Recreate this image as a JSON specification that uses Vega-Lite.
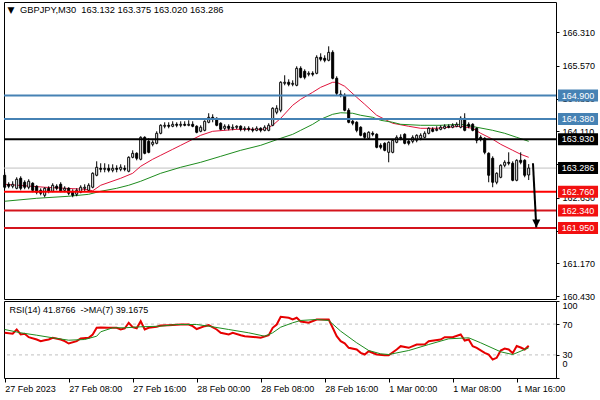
{
"$schema":"https://vega.github.io/schema/vega-lite/v6.json",
"padding":{"left":0,"top":1,"right":2,"bottom":2},
"background":"white",
"spacing":2,
"bounds":"flush",
"config":{
 "view":{"stroke":"black","strokeWidth":1},
 "axis":{"labelFont":"Liberation Sans","labelFontSize":9,"labelColor":"black","tickColor":"black","tickSize":3,"domain":false,"grid":false,"labelPadding":3,"labelOverlap":false,"labelBound":false},
 "text":{"font":"Liberation Sans"}
},
"datasets":{
 "candles":[
{"t":"2023-02-27T00:00","o":163.126,"h":163.192,"l":162.814,"c":162.859},
{"t":"2023-02-27T00:30","o":162.925,"h":162.970,"l":162.836,"c":162.881},
{"t":"2023-02-27T01:00","o":162.881,"h":162.992,"l":162.836,"c":162.925},
{"t":"2023-02-27T01:30","o":162.836,"h":163.081,"l":162.814,"c":163.037},
{"t":"2023-02-27T02:00","o":163.059,"h":163.103,"l":162.791,"c":162.836},
{"t":"2023-02-27T02:30","o":162.970,"h":163.014,"l":162.814,"c":162.859},
{"t":"2023-02-27T03:00","o":162.859,"h":163.037,"l":162.814,"c":162.992},
{"t":"2023-02-27T03:30","o":162.948,"h":162.970,"l":162.747,"c":162.791},
{"t":"2023-02-27T04:00","o":162.881,"h":162.903,"l":162.702,"c":162.747},
{"t":"2023-02-27T04:30","o":162.791,"h":162.836,"l":162.680,"c":162.725},
{"t":"2023-02-27T05:00","o":162.680,"h":162.859,"l":162.636,"c":162.836},
{"t":"2023-02-27T05:30","o":162.836,"h":162.881,"l":162.725,"c":162.769},
{"t":"2023-02-27T06:00","o":162.769,"h":162.948,"l":162.747,"c":162.903},
{"t":"2023-02-27T06:30","o":162.881,"h":162.925,"l":162.791,"c":162.836},
{"t":"2023-02-27T07:00","o":162.925,"h":162.970,"l":162.747,"c":162.769},
{"t":"2023-02-27T07:30","o":162.791,"h":162.881,"l":162.747,"c":162.836},
{"t":"2023-02-27T08:00","o":162.836,"h":162.859,"l":162.680,"c":162.725},
{"t":"2023-02-27T08:30","o":162.769,"h":162.814,"l":162.636,"c":162.680},
{"t":"2023-02-27T09:00","o":162.702,"h":162.836,"l":162.658,"c":162.791},
{"t":"2023-02-27T09:30","o":162.747,"h":162.903,"l":162.725,"c":162.859},
{"t":"2023-02-27T10:00","o":162.836,"h":162.925,"l":162.769,"c":162.859},
{"t":"2023-02-27T10:30","o":162.791,"h":162.948,"l":162.769,"c":162.903},
{"t":"2023-02-27T11:00","o":162.859,"h":163.192,"l":162.836,"c":163.170},
{"t":"2023-02-27T11:30","o":163.126,"h":163.437,"l":163.103,"c":163.304},
{"t":"2023-02-27T12:00","o":163.281,"h":163.393,"l":163.192,"c":163.259},
{"t":"2023-02-27T12:30","o":163.259,"h":163.393,"l":163.192,"c":163.281},
{"t":"2023-02-27T13:00","o":163.281,"h":163.370,"l":163.192,"c":163.237},
{"t":"2023-02-27T13:30","o":163.237,"h":163.370,"l":163.192,"c":163.281},
{"t":"2023-02-27T14:00","o":163.281,"h":163.348,"l":163.192,"c":163.259},
{"t":"2023-02-27T14:30","o":163.259,"h":163.370,"l":163.215,"c":163.304},
{"t":"2023-02-27T15:00","o":163.281,"h":163.348,"l":163.215,"c":163.259},
{"t":"2023-02-27T15:30","o":163.215,"h":163.548,"l":163.192,"c":163.526},
{"t":"2023-02-27T16:00","o":163.526,"h":163.682,"l":163.504,"c":163.615},
{"t":"2023-02-27T16:30","o":163.615,"h":163.637,"l":163.459,"c":163.504},
{"t":"2023-02-27T17:00","o":163.482,"h":163.994,"l":163.459,"c":163.971},
{"t":"2023-02-27T17:30","o":163.971,"h":163.994,"l":163.593,"c":163.615},
{"t":"2023-02-27T18:00","o":163.882,"h":163.949,"l":163.615,"c":163.637},
{"t":"2023-02-27T18:30","o":163.816,"h":163.905,"l":163.771,"c":163.860},
{"t":"2023-02-27T19:00","o":163.838,"h":164.105,"l":163.816,"c":164.061},
{"t":"2023-02-27T19:30","o":164.061,"h":164.261,"l":164.038,"c":164.239},
{"t":"2023-02-27T20:00","o":164.217,"h":164.306,"l":164.172,"c":164.239},
{"t":"2023-02-27T20:30","o":164.239,"h":164.306,"l":164.172,"c":164.217},
{"t":"2023-02-27T21:00","o":164.217,"h":164.328,"l":164.195,"c":164.261},
{"t":"2023-02-27T21:30","o":164.261,"h":164.306,"l":164.195,"c":164.239},
{"t":"2023-02-27T22:00","o":164.239,"h":164.328,"l":164.195,"c":164.261},
{"t":"2023-02-27T22:30","o":164.261,"h":164.328,"l":164.217,"c":164.239},
{"t":"2023-02-27T23:00","o":164.239,"h":164.350,"l":164.217,"c":164.261},
{"t":"2023-02-27T23:30","o":164.261,"h":164.328,"l":164.195,"c":164.217},
{"t":"2023-02-28T00:00","o":164.217,"h":164.239,"l":164.061,"c":164.083},
{"t":"2023-02-28T00:30","o":164.105,"h":164.239,"l":164.083,"c":164.195},
{"t":"2023-02-28T01:00","o":164.127,"h":164.350,"l":164.105,"c":164.328},
{"t":"2023-02-28T01:30","o":164.306,"h":164.507,"l":164.284,"c":164.417},
{"t":"2023-02-28T02:00","o":164.417,"h":164.484,"l":164.306,"c":164.373},
{"t":"2023-02-28T02:30","o":164.395,"h":164.417,"l":164.217,"c":164.239},
{"t":"2023-02-28T03:00","o":164.284,"h":164.306,"l":164.127,"c":164.150},
{"t":"2023-02-28T03:30","o":164.172,"h":164.261,"l":164.127,"c":164.217},
{"t":"2023-02-28T04:00","o":164.217,"h":164.261,"l":164.127,"c":164.172},
{"t":"2023-02-28T04:30","o":164.172,"h":164.261,"l":164.127,"c":164.195},
{"t":"2023-02-28T05:00","o":164.195,"h":164.239,"l":164.150,"c":164.217},
{"t":"2023-02-28T05:30","o":164.217,"h":164.239,"l":164.105,"c":164.150},
{"t":"2023-02-28T06:00","o":164.150,"h":164.217,"l":164.105,"c":164.172},
{"t":"2023-02-28T06:30","o":164.172,"h":164.217,"l":164.105,"c":164.150},
{"t":"2023-02-28T07:00","o":164.150,"h":164.195,"l":164.083,"c":164.127},
{"t":"2023-02-28T07:30","o":164.127,"h":164.217,"l":164.105,"c":164.172},
{"t":"2023-02-28T08:00","o":164.172,"h":164.195,"l":164.083,"c":164.127},
{"t":"2023-02-28T08:30","o":164.127,"h":164.239,"l":164.105,"c":164.195},
{"t":"2023-02-28T09:00","o":164.127,"h":164.284,"l":164.105,"c":164.239},
{"t":"2023-02-28T09:30","o":164.239,"h":164.640,"l":164.217,"c":164.618},
{"t":"2023-02-28T10:00","o":164.529,"h":164.685,"l":164.484,"c":164.618},
{"t":"2023-02-28T10:30","o":164.573,"h":165.219,"l":164.529,"c":165.197},
{"t":"2023-02-28T11:00","o":165.174,"h":165.353,"l":165.130,"c":165.197},
{"t":"2023-02-28T11:30","o":165.197,"h":165.263,"l":165.108,"c":165.152},
{"t":"2023-02-28T12:00","o":165.152,"h":165.241,"l":165.108,"c":165.174},
{"t":"2023-02-28T12:30","o":165.130,"h":165.553,"l":165.108,"c":165.508},
{"t":"2023-02-28T13:00","o":165.508,"h":165.553,"l":165.286,"c":165.308},
{"t":"2023-02-28T13:30","o":165.442,"h":165.486,"l":165.263,"c":165.308},
{"t":"2023-02-28T14:00","o":165.375,"h":165.442,"l":165.330,"c":165.397},
{"t":"2023-02-28T14:30","o":165.397,"h":165.442,"l":165.330,"c":165.375},
{"t":"2023-02-28T15:00","o":165.397,"h":165.798,"l":165.375,"c":165.753},
{"t":"2023-02-28T15:30","o":165.753,"h":165.842,"l":165.664,"c":165.709},
{"t":"2023-02-28T16:00","o":165.731,"h":165.798,"l":165.642,"c":165.687},
{"t":"2023-02-28T16:30","o":165.687,"h":165.998,"l":165.664,"c":165.864},
{"t":"2023-02-28T17:00","o":165.864,"h":165.909,"l":165.263,"c":165.286},
{"t":"2023-02-28T17:30","o":165.286,"h":165.330,"l":164.907,"c":164.952},
{"t":"2023-02-28T18:00","o":164.930,"h":165.019,"l":164.863,"c":164.907},
{"t":"2023-02-28T18:30","o":164.907,"h":164.952,"l":164.551,"c":164.573},
{"t":"2023-02-28T19:00","o":164.573,"h":164.618,"l":164.284,"c":164.306},
{"t":"2023-02-28T19:30","o":164.328,"h":164.373,"l":164.239,"c":164.284},
{"t":"2023-02-28T20:00","o":164.306,"h":164.328,"l":164.083,"c":164.127},
{"t":"2023-02-28T20:30","o":164.195,"h":164.217,"l":163.994,"c":164.016},
{"t":"2023-02-28T21:00","o":164.061,"h":164.083,"l":163.927,"c":163.971},
{"t":"2023-02-28T21:30","o":163.949,"h":164.105,"l":163.927,"c":164.083},
{"t":"2023-02-28T22:00","o":164.061,"h":164.105,"l":163.994,"c":164.038},
{"t":"2023-02-28T22:30","o":164.038,"h":164.061,"l":163.727,"c":163.749},
{"t":"2023-02-28T23:00","o":163.793,"h":163.838,"l":163.704,"c":163.749},
{"t":"2023-02-28T23:30","o":163.838,"h":163.860,"l":163.660,"c":163.682},
{"t":"2023-03-01T00:00","o":163.637,"h":163.882,"l":163.415,"c":163.860},
{"t":"2023-03-01T00:30","o":163.637,"h":163.927,"l":163.615,"c":163.905},
{"t":"2023-03-01T01:00","o":163.860,"h":164.016,"l":163.838,"c":163.971},
{"t":"2023-03-01T01:30","o":163.971,"h":164.038,"l":163.905,"c":163.949},
{"t":"2023-03-01T02:00","o":164.038,"h":164.061,"l":163.816,"c":163.838},
{"t":"2023-03-01T02:30","o":163.882,"h":163.927,"l":163.793,"c":163.838},
{"t":"2023-03-01T03:00","o":163.882,"h":164.016,"l":163.838,"c":163.971},
{"t":"2023-03-01T03:30","o":163.905,"h":164.038,"l":163.860,"c":164.016},
{"t":"2023-03-01T04:00","o":163.949,"h":164.061,"l":163.905,"c":164.016},
{"t":"2023-03-01T04:30","o":163.971,"h":164.105,"l":163.949,"c":164.061},
{"t":"2023-03-01T05:00","o":164.061,"h":164.195,"l":164.038,"c":164.172},
{"t":"2023-03-01T05:30","o":164.150,"h":164.195,"l":164.083,"c":164.105},
{"t":"2023-03-01T06:00","o":164.127,"h":164.217,"l":164.105,"c":164.150},
{"t":"2023-03-01T06:30","o":164.150,"h":164.239,"l":164.127,"c":164.195},
{"t":"2023-03-01T07:00","o":164.172,"h":164.261,"l":164.150,"c":164.217},
{"t":"2023-03-01T07:30","o":164.217,"h":164.261,"l":164.172,"c":164.195},
{"t":"2023-03-01T08:00","o":164.195,"h":164.284,"l":164.172,"c":164.239},
{"t":"2023-03-01T08:30","o":164.217,"h":164.306,"l":164.195,"c":164.261},
{"t":"2023-03-01T09:00","o":164.195,"h":164.440,"l":164.172,"c":164.395},
{"t":"2023-03-01T09:30","o":164.395,"h":164.507,"l":164.105,"c":164.127},
{"t":"2023-03-01T10:00","o":164.261,"h":164.306,"l":164.172,"c":164.217},
{"t":"2023-03-01T10:30","o":164.261,"h":164.284,"l":164.105,"c":164.127},
{"t":"2023-03-01T11:00","o":164.172,"h":164.195,"l":163.838,"c":163.905},
{"t":"2023-03-01T11:30","o":163.971,"h":164.016,"l":163.882,"c":163.927},
{"t":"2023-03-01T12:00","o":163.949,"h":163.971,"l":163.593,"c":163.637},
{"t":"2023-03-01T12:30","o":163.615,"h":163.637,"l":162.970,"c":163.126},
{"t":"2023-03-01T13:00","o":163.504,"h":163.548,"l":162.859,"c":162.970},
{"t":"2023-03-01T13:30","o":162.970,"h":163.192,"l":162.925,"c":163.170},
{"t":"2023-03-01T14:00","o":163.081,"h":163.370,"l":163.059,"c":163.348},
{"t":"2023-03-01T14:30","o":163.348,"h":163.459,"l":163.304,"c":163.415},
{"t":"2023-03-01T15:00","o":163.415,"h":163.637,"l":163.348,"c":163.393},
{"t":"2023-03-01T15:30","o":163.393,"h":163.437,"l":162.992,"c":163.014},
{"t":"2023-03-01T16:00","o":163.014,"h":163.482,"l":162.992,"c":163.459},
{"t":"2023-03-01T16:30","o":163.459,"h":163.637,"l":163.370,"c":163.415},
{"t":"2023-03-01T17:00","o":163.459,"h":163.482,"l":163.081,"c":163.126},
{"t":"2023-03-01T17:30","o":163.132,"h":163.375,"l":163.020,"c":163.286}
 ],
 "redMA":[
{"t":"2023-02-27T00:00","p":162.925},{"t":"2023-02-27T05:00","p":162.859},{"t":"2023-02-27T10:00","p":162.814},{"t":"2023-02-27T11:00","p":162.780},
{"t":"2023-02-27T12:00","p":162.903},{"t":"2023-02-27T14:30","p":163.059},{"t":"2023-02-27T16:00","p":163.170},{"t":"2023-02-27T17:00","p":163.326},
{"t":"2023-02-27T18:30","p":163.482},{"t":"2023-02-27T19:30","p":163.571},{"t":"2023-02-27T21:00","p":163.704},{"t":"2023-02-27T22:00","p":163.793},
{"t":"2023-02-27T23:30","p":163.927},{"t":"2023-02-28T00:30","p":164.016},{"t":"2023-02-28T02:00","p":164.105},{"t":"2023-02-28T03:30","p":164.127},
{"t":"2023-02-28T05:00","p":164.150},{"t":"2023-02-28T07:00","p":164.150},{"t":"2023-02-28T08:30","p":164.150},{"t":"2023-02-28T09:30","p":164.239},
{"t":"2023-02-28T10:30","p":164.395},{"t":"2023-02-28T12:00","p":164.685},{"t":"2023-02-28T13:00","p":164.818},{"t":"2023-02-28T14:30","p":164.974},
{"t":"2023-02-28T15:30","p":165.085},{"t":"2023-02-28T17:00","p":165.197},{"t":"2023-02-28T17:30","p":165.197},{"t":"2023-02-28T18:30","p":165.108},
{"t":"2023-02-28T20:00","p":164.863},{"t":"2023-02-28T21:00","p":164.707},{"t":"2023-02-28T22:30","p":164.462},{"t":"2023-02-28T23:30","p":164.373},
{"t":"2023-03-01T00:30","p":164.284},{"t":"2023-03-01T02:30","p":164.217},{"t":"2023-03-01T04:00","p":164.172},{"t":"2023-03-01T06:00","p":164.172},
{"t":"2023-03-01T07:30","p":164.195},{"t":"2023-03-01T09:00","p":164.217},{"t":"2023-03-01T10:30","p":164.172},{"t":"2023-03-01T11:30","p":164.061},
{"t":"2023-03-01T13:00","p":163.927},{"t":"2023-03-01T14:00","p":163.816},{"t":"2023-03-01T15:30","p":163.682},{"t":"2023-03-01T16:30","p":163.593},
{"t":"2023-03-01T17:30","p":163.526}
 ],
 "greenMA":[
{"t":"2023-02-27T00:00","p":162.547},{"t":"2023-02-27T04:00","p":162.613},{"t":"2023-02-27T08:00","p":162.658},{"t":"2023-02-27T10:30","p":162.702},
{"t":"2023-02-27T12:00","p":162.769},{"t":"2023-02-27T14:00","p":162.836},{"t":"2023-02-27T15:30","p":162.903},{"t":"2023-02-27T17:00","p":162.992},
{"t":"2023-02-27T19:30","p":163.170},{"t":"2023-02-27T22:00","p":163.304},{"t":"2023-02-28T00:30","p":163.415},{"t":"2023-02-28T03:00","p":163.548},
{"t":"2023-02-28T05:30","p":163.682},{"t":"2023-02-28T08:00","p":163.793},{"t":"2023-02-28T10:30","p":163.949},{"t":"2023-02-28T12:00","p":164.038},
{"t":"2023-02-28T13:00","p":164.127},{"t":"2023-02-28T14:30","p":164.261},{"t":"2023-02-28T15:30","p":164.373},{"t":"2023-02-28T17:00","p":164.484},
{"t":"2023-02-28T18:00","p":164.518},{"t":"2023-02-28T19:30","p":164.507},{"t":"2023-02-28T20:30","p":164.462},{"t":"2023-02-28T22:00","p":164.417},
{"t":"2023-02-28T23:00","p":164.350},{"t":"2023-03-01T00:30","p":164.306},{"t":"2023-03-01T01:30","p":164.261},{"t":"2023-03-01T04:00","p":164.239},
{"t":"2023-03-01T06:30","p":164.239},{"t":"2023-03-01T09:00","p":164.261},{"t":"2023-03-01T11:00","p":164.195},{"t":"2023-03-01T13:00","p":164.127},
{"t":"2023-03-01T14:30","p":164.061},{"t":"2023-03-01T16:00","p":163.971},{"t":"2023-03-01T17:30","p":163.882}
 ],
 "levels":[
{"p":164.900,"kind":"Resistance"},{"p":164.380,"kind":"Resistance"},{"p":163.930,"kind":"Pivot"},
{"p":162.760,"kind":"Support 1"},{"p":162.340,"kind":"Support"},{"p":161.950,"kind":"Support"},{"p":163.286,"kind":"Bid"}
 ],
 "arrow":[
{"t":"2023-03-01T18:02","p":163.393,"part":"start"},{"t":"2023-03-01T18:27","p":161.965,"part":"end"}
 ],
 "rsiLevels":[{"v":30},{"v":70}],
 "rsi":[
{"t":"2023-02-27T00:00","v":58.7},{"t":"2023-02-27T01:00","v":57.4},{"t":"2023-02-27T01:30","v":63.0},{"t":"2023-02-27T02:00","v":56.5},
{"t":"2023-02-27T02:30","v":57.4},{"t":"2023-02-27T03:00","v":53.0},{"t":"2023-02-27T04:00","v":50.0},{"t":"2023-02-27T04:30","v":47.8},
{"t":"2023-02-27T05:00","v":49.1},{"t":"2023-02-27T05:30","v":50.0},{"t":"2023-02-27T06:00","v":52.2},{"t":"2023-02-27T07:00","v":50.0},
{"t":"2023-02-27T07:30","v":47.8},{"t":"2023-02-27T08:00","v":44.8},{"t":"2023-02-27T09:00","v":47.8},{"t":"2023-02-27T09:30","v":51.3},
{"t":"2023-02-27T10:30","v":52.2},{"t":"2023-02-27T11:00","v":56.5},{"t":"2023-02-27T11:30","v":65.2},{"t":"2023-02-27T12:00","v":65.6},
{"t":"2023-02-27T13:00","v":65.2},{"t":"2023-02-27T14:00","v":65.2},{"t":"2023-02-27T14:30","v":63.0},{"t":"2023-02-27T15:00","v":64.3},
{"t":"2023-02-27T15:30","v":71.7},{"t":"2023-02-27T16:00","v":66.0},{"t":"2023-02-27T16:30","v":64.5},{"t":"2023-02-27T17:00","v":73.8},
{"t":"2023-02-27T17:30","v":63.0},{"t":"2023-02-27T18:00","v":65.2},{"t":"2023-02-27T19:00","v":66.5},{"t":"2023-02-27T19:30","v":68.2},
{"t":"2023-02-27T20:30","v":68.6},{"t":"2023-02-27T22:00","v":69.5},{"t":"2023-02-27T23:00","v":69.5},{"t":"2023-02-27T23:30","v":67.3},
{"t":"2023-02-28T00:00","v":63.6},{"t":"2023-02-28T01:00","v":67.3},{"t":"2023-02-28T01:30","v":68.6},{"t":"2023-02-28T02:30","v":63.0},
{"t":"2023-02-28T03:00","v":58.7},{"t":"2023-02-28T04:00","v":56.5},{"t":"2023-02-28T04:30","v":58.7},{"t":"2023-02-28T05:30","v":55.6},
{"t":"2023-02-28T06:00","v":54.3},{"t":"2023-02-28T07:30","v":53.0},{"t":"2023-02-28T08:00","v":52.2},{"t":"2023-02-28T09:00","v":55.6},
{"t":"2023-02-28T09:30","v":65.2},{"t":"2023-02-28T10:00","v":69.5},{"t":"2023-02-28T10:30","v":79.5},{"t":"2023-02-28T11:30","v":78.2},
{"t":"2023-02-28T12:00","v":76.0},{"t":"2023-02-28T12:30","v":78.2},{"t":"2023-02-28T13:00","v":73.4},{"t":"2023-02-28T14:00","v":71.7},
{"t":"2023-02-28T15:00","v":76.0},{"t":"2023-02-28T16:30","v":76.0},{"t":"2023-02-28T17:00","v":65.2},{"t":"2023-02-28T17:30","v":54.3},
{"t":"2023-02-28T18:00","v":47.8},{"t":"2023-02-28T18:30","v":45.0},{"t":"2023-02-28T19:00","v":39.2},{"t":"2023-02-28T20:00","v":37.0},
{"t":"2023-02-28T20:30","v":32.7},{"t":"2023-02-28T21:00","v":30.5},{"t":"2023-02-28T21:30","v":34.8},{"t":"2023-02-28T22:30","v":30.5},
{"t":"2023-02-28T23:30","v":29.6},{"t":"2023-03-01T00:00","v":29.6},{"t":"2023-03-01T01:00","v":37.0},{"t":"2023-03-01T01:30","v":41.3},
{"t":"2023-03-01T02:30","v":39.2},{"t":"2023-03-01T03:30","v":43.5},{"t":"2023-03-01T04:30","v":43.5},{"t":"2023-03-01T05:00","v":47.8},
{"t":"2023-03-01T06:30","v":50.0},{"t":"2023-03-01T07:00","v":53.0},{"t":"2023-03-01T08:00","v":53.0},{"t":"2023-03-01T09:00","v":56.5},
{"t":"2023-03-01T09:30","v":48.7},{"t":"2023-03-01T10:00","v":50.0},{"t":"2023-03-01T10:30","v":41.3},{"t":"2023-03-01T11:00","v":39.2},
{"t":"2023-03-01T12:00","v":32.7},{"t":"2023-03-01T12:30","v":30.5},{"t":"2023-03-01T13:00","v":24.0},{"t":"2023-03-01T13:30","v":26.2},
{"t":"2023-03-01T14:00","v":35.7},{"t":"2023-03-01T14:30","v":38.3},{"t":"2023-03-01T15:00","v":37.0},{"t":"2023-03-01T15:30","v":32.2},
{"t":"2023-03-01T16:00","v":41.6},{"t":"2023-03-01T16:30","v":39.6},{"t":"2023-03-01T17:00","v":37.0},{"t":"2023-03-01T17:30","v":41.8766}
 ],
 "rsiMA":[
{"t":"2023-02-27T00:00","v":63.0},{"t":"2023-02-27T02:00","v":58.7},{"t":"2023-02-27T04:00","v":55.6},{"t":"2023-02-27T06:00","v":52.2},
{"t":"2023-02-27T08:00","v":49.1},{"t":"2023-02-27T10:00","v":50.0},{"t":"2023-02-27T11:30","v":54.3},{"t":"2023-02-27T12:00","v":60.0},
{"t":"2023-02-27T13:30","v":65.2},{"t":"2023-02-27T15:00","v":65.2},{"t":"2023-02-27T17:00","v":66.5},{"t":"2023-02-27T19:30","v":67.3},
{"t":"2023-02-27T21:30","v":69.5},{"t":"2023-02-28T00:00","v":69.5},{"t":"2023-02-28T01:30","v":67.3},{"t":"2023-02-28T04:00","v":63.0},
{"t":"2023-02-28T06:30","v":58.7},{"t":"2023-02-28T08:30","v":54.3},{"t":"2023-02-28T09:30","v":58.7},{"t":"2023-02-28T10:30","v":66.0},
{"t":"2023-02-28T12:00","v":71.7},{"t":"2023-02-28T13:00","v":74.7},{"t":"2023-02-28T15:00","v":76.0},{"t":"2023-02-28T16:30","v":74.7},
{"t":"2023-02-28T18:00","v":60.8},{"t":"2023-02-28T20:00","v":45.7},{"t":"2023-02-28T21:30","v":35.7},{"t":"2023-02-28T23:00","v":31.4},
{"t":"2023-03-01T00:00","v":30.5},{"t":"2023-03-01T02:30","v":35.7},{"t":"2023-03-01T05:00","v":43.5},{"t":"2023-03-01T07:30","v":50.9},
{"t":"2023-03-01T10:00","v":52.2},{"t":"2023-03-01T11:30","v":45.7},{"t":"2023-03-01T14:00","v":34.0},{"t":"2023-03-01T15:30","v":30.5},
{"t":"2023-03-01T17:30","v":39.1675}
 ]
},
"vconcat":[
 {
  "width":552,"height":297,
  "resolve":{"axis":{"y":"independent"}},
  "layer":[
   {"data":{"name":"levels"},"transform":[{"filter":"datum.kind == 'Bid'"}],
    "mark":{"type":"rule","color":"#c0c0c0","strokeWidth":1},
    "encoding":{"y":{"field":"p","type":"quantitative","title":null,"scale":{"domain":[160.37,166.985],"zero":false,"nice":false},
      "axis":{"orient":"right","values":[160.43,161.17,161.89,162.63,163.37,164.11,164.83,165.57,166.31],"format":".3f","title":null,"labelOverlap":false}}}},
   {"data":{"name":"redMA"},"mark":{"type":"line","color":"#e0143c","strokeWidth":1},
    "encoding":{"x":{"field":"t","type":"temporal","axis":null,
      "scale":{"domain":[{"year":2023,"month":2,"date":26,"hours":23,"minutes":54,"seconds":45},{"year":2023,"month":3,"date":1,"hours":20,"minutes":54,"seconds":45}],"nice":false,"padding":0}},
     "y":{"field":"p","type":"quantitative","axis":null}}},
   {"data":{"name":"greenMA"},"mark":{"type":"line","color":"#1e8c1e","strokeWidth":1},
    "encoding":{"x":{"field":"t","type":"temporal","axis":null},"y":{"field":"p","type":"quantitative","axis":null}}},
   {"data":{"name":"candles"},"mark":{"type":"rule","color":"black","strokeWidth":1},
    "encoding":{"x":{"field":"t","type":"temporal","axis":null},"y":{"field":"l","type":"quantitative","axis":null},"y2":{"field":"h"}}},
   {"data":{"name":"candles"},"mark":{"type":"bar","width":2,"stroke":"black","strokeWidth":1},
    "encoding":{"x":{"field":"t","type":"temporal","axis":null},"y":{"field":"o","type":"quantitative","axis":null},"y2":{"field":"c"},
     "fill":{"condition":{"test":"datum.c > datum.o","value":"white"},"value":"black"}}},
   {"data":{"name":"levels"},"transform":[{"filter":"datum.kind != 'Bid'"}],
    "mark":{"type":"rule","strokeWidth":2},
    "encoding":{"y":{"field":"p","type":"quantitative","axis":null},
     "stroke":{"field":"kind","type":"nominal","legend":null,"scale":{"domain":["Resistance","Pivot","Support 1","Support"],"range":["#4682b4","#000000","#ff0000","#d4141c"]}}}},
   {"data":{"name":"arrow"},"mark":{"type":"line","color":"black","strokeWidth":2},
    "encoding":{"x":{"field":"t","type":"temporal","axis":null},"y":{"field":"p","type":"quantitative","axis":null}}},
   {"data":{"name":"arrow"},"transform":[{"filter":"datum.part == 'end'"}],
    "mark":{"type":"point","shape":"M-1,-2L1,-2L0,0Z","filled":true,"fill":"black","opacity":1,"size":64,"strokeWidth":0},
    "encoding":{"x":{"field":"t","type":"temporal","axis":null},"y":{"field":"p","type":"quantitative","axis":null}}},
   {"data":{"name":"levels"},
    "mark":{"type":"point","shape":"M-1,-0.3L1,-0.3L1,0.3L-1,0.3Z","filled":true,"opacity":1,"size":1600,"strokeWidth":0},
    "encoding":{"x":{"datum":{"year":2023,"month":3,"date":1,"hours":23,"minutes":40},"type":"temporal","axis":null},
     "y":{"field":"p","type":"quantitative","axis":null},
     "fill":{"field":"kind","type":"nominal","legend":null,"scale":{"domain":["Resistance","Pivot","Support 1","Support","Bid"],"range":["#4682b4","#000000","#f21010","#f21010","#000000"]}}}},
   {"data":{"name":"levels"},
    "mark":{"type":"text","color":"white","fontSize":9,"align":"center","baseline":"middle","font":"Liberation Sans"},
    "encoding":{"x":{"datum":{"year":2023,"month":3,"date":1,"hours":23,"minutes":40},"type":"temporal","axis":null},
     "y":{"field":"p","type":"quantitative","axis":null},
     "text":{"field":"p","type":"quantitative","format":".3f"}}},
   {"data":{"values":[{}]},
    "mark":{"type":"text","color":"black","fontSize":9,"align":"center","baseline":"middle","font":"DejaVu Sans","text":"▼"},
    "encoding":{"x":{"datum":{"year":2023,"month":2,"date":27,"hours":0,"minutes":47},"type":"temporal","axis":null},
     "y":{"datum":166.81,"type":"quantitative","axis":null}}},
   {"data":{"values":[{}]},
    "mark":{"type":"text","color":"black","fontSize":9.3,"align":"left","baseline":"middle","font":"Liberation Sans","text":"GBPJPY,M30\u00a0 163.132 163.375 163.020 163.286"},
    "encoding":{"x":{"datum":{"year":2023,"month":2,"date":27,"hours":1,"minutes":55},"type":"temporal","axis":null},
     "y":{"datum":166.807,"type":"quantitative","axis":null}}}
  ]
 },
 {
  "width":552,"height":77,
  "resolve":{"axis":{"y":"independent"}},
  "layer":[
   {"data":{"name":"rsiLevels"},"mark":{"type":"rule","color":"#c0c0c0","strokeDash":[3,3],"strokeWidth":1},
    "encoding":{"y":{"field":"v","type":"quantitative","title":null,"scale":{"domain":[0,100],"zero":false,"nice":false},
      "axis":{"orient":"right","values":[0,30,70,100],"title":null,"labelOverlap":false,"labelFlush":true,"labelBound":false,
       "labelOffset":{"condition":{"test":"datum.value == 0","value":-10},"value":0}}}}},
   {"data":{"name":"rsi"},"mark":{"type":"line","color":"#e60000","strokeWidth":2},
    "encoding":{"x":{"field":"t","type":"temporal","title":null,
      "scale":{"domain":[{"year":2023,"month":2,"date":26,"hours":23,"minutes":54,"seconds":45},{"year":2023,"month":3,"date":1,"hours":20,"minutes":54,"seconds":45}],"nice":false,"padding":0},
      "axis":{"title":null,"values":[{"year":2023,"month":2,"date":27,"hours":0},{"year":2023,"month":2,"date":27,"hours":8},{"year":2023,"month":2,"date":27,"hours":16},
        {"year":2023,"month":2,"date":28,"hours":0},{"year":2023,"month":2,"date":28,"hours":8},{"year":2023,"month":2,"date":28,"hours":16},
        {"year":2023,"month":3,"date":1,"hours":0},{"year":2023,"month":3,"date":1,"hours":8},{"year":2023,"month":3,"date":1,"hours":16}],
       "labelExpr":"hours(datum.value) == 0 && date(datum.value) == 27 ? timeFormat(datum.value, '%-d %b %Y') : timeFormat(datum.value, '%-d %b %H:%M')",
       "labelAlign":"left","labelFlush":false,"labelOverlap":false,"labelBound":false,"tickSize":4,"labelPadding":2}},
     "y":{"field":"v","type":"quantitative","axis":null}}},
   {"data":{"name":"rsiMA"},"mark":{"type":"line","color":"#1e8c1e","strokeWidth":1},
    "encoding":{"x":{"field":"t","type":"temporal","title":null},"y":{"field":"v","type":"quantitative","axis":null}}},
   {"data":{"values":[{}]},
    "mark":{"type":"text","color":"black","fontSize":9,"align":"left","baseline":"middle","font":"Liberation Sans","text":"RSI(14) 41.8766\u00a0 ->MA(7) 39.1675"},
    "encoding":{"x":{"datum":{"year":2023,"month":2,"date":27,"hours":0,"minutes":36},"type":"temporal","title":null},
     "y":{"datum":88,"type":"quantitative","axis":null}}}
  ]
 }
]
}
